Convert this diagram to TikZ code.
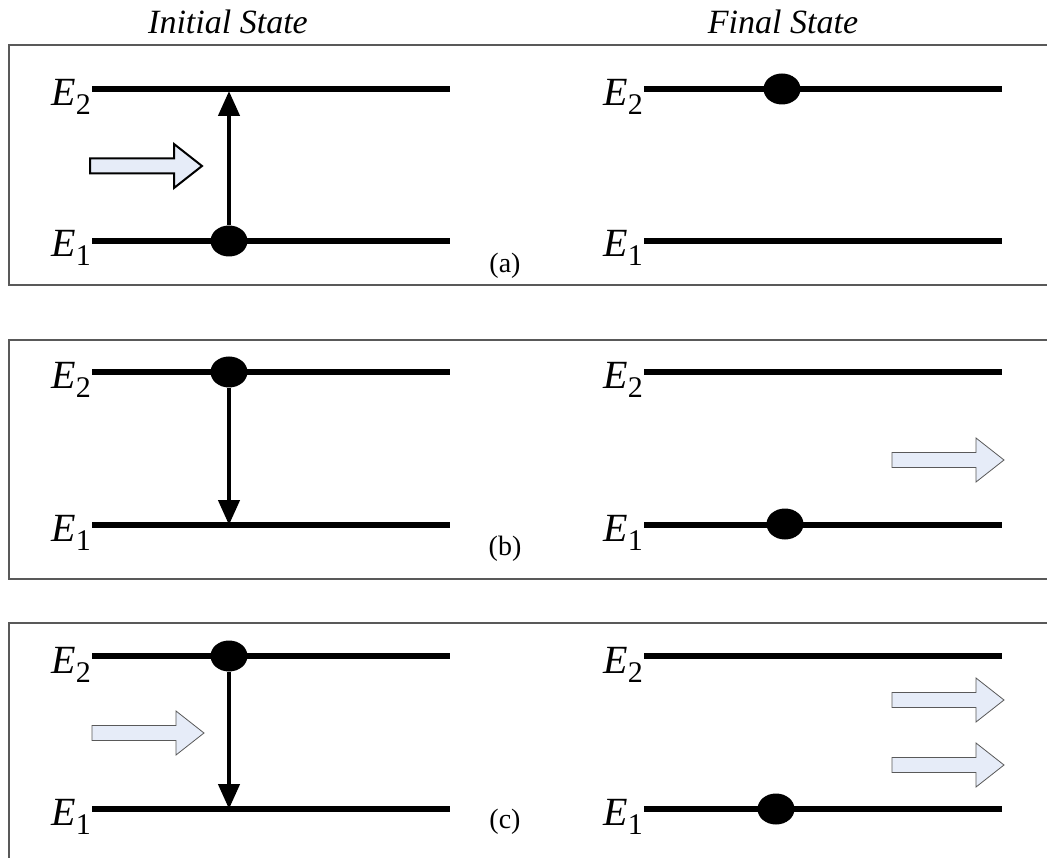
\documentclass[tikz,border=0pt]{standalone}
\usepackage{fontspec}
\setmainfont{Liberation Serif}
\usetikzlibrary{arrows.meta,shapes.geometric}
\definecolor{photonblue}{RGB}{230,236,248}
\tikzset{
  level/.style={line width=5.5pt},
  electron/.style={ellipse,fill=black,minimum width=37pt,minimum height=31pt,inner sep=0pt},
  jump/.style={line width=4.5pt,-{Triangle[width=21pt,length=25pt]}},
  elabel/.style={anchor=base east,inner sep=0pt,font=\fontsize{40}{40}\selectfont},
  panel/.style={draw=gray!70!black,line width=1.2pt},
  photon/.style={fill=photonblue,draw=gray!70!black,line width=0.8pt},
  bigphoton/.style={fill=photonblue,draw=black,line width=2pt},
  tag/.style={font=\fontsize{28}{28}\selectfont},
  title/.style={font=\fontsize{34}{34}\selectfont\itshape}
}
\newcommand{\En}[1]{\textit{E}\raisebox{-9pt}{\fontsize{30}{30}\selectfont #1}}
\newcommand{\photonarrow}[3][photon]{%
  \draw[#1] (#2,#3) ++(0,-7.5) -- ++(84,0) -- ++(0,-14.5) -- ++(28,22)
    -- ++(-28,22) -- ++(0,-14.5) -- ++(-84,0) -- cycle;}
\begin{document}
\begin{tikzpicture}[x=1pt,y=-1pt]
  \useasboundingbox (0,0) rectangle (1047,858);
  \node[title] (init) at (228,22) {Initial State};
  \node[title] (final) at (783,22) {Final State};

  % panels
  \draw[panel] (1060,45) -- (9,45) -- (9,285) -- (1060,285);
  \draw[panel] (1060,340) -- (9,340) -- (9,579) -- (1060,579);
  \draw[panel] (1060,623) -- (9,623) -- (9,870);

  % levels
  \foreach \up/\lo in {89/241, 372/525, 656/809} {
    \draw[level] (92,\up) -- (450,\up);
    \draw[level] (92,\lo) -- (450,\lo);
    \draw[level] (644,\up) -- (1002,\up);
    \draw[level] (644,\lo) -- (1002,\lo);
    \node[elabel] at (91,\up+17) {\En{2}};
    \node[elabel] at (91,\lo+16) {\En{1}};
    \node[elabel] at (643,\up+17) {\En{2}};
    \node[elabel] at (643,\lo+16) {\En{1}};
  }

  % (a) absorption
  \node[electron] (atomA) at (229,241) {};
  \coordinate (topA) at (229,91);
  \draw[jump] (atomA) -- (topA);
  \photonarrow[bigphoton]{90}{166}
  \node[electron] (atomAf) at (782,89) {};
  \node[tag] (tagA) at (505,266) {(a)};

  % (b) spontaneous emission
  \node[electron] (atomB) at (229,372) {};
  \coordinate (botB) at (229,525);
  \draw[jump] (atomB) -- (botB);
  \node[electron] (atomBf) at (785,524) {};
  \photonarrow{892}{460}
  \node[tag] (tagB) at (505,549) {(b)};

  % (c) stimulated emission
  \node[electron] (atomC) at (229,656) {};
  \coordinate (botC) at (229,809);
  \draw[jump] (atomC) -- (botC);
  \photonarrow{92}{733}
  \node[electron] (atomCf) at (776,809) {};
  \photonarrow{892}{700}
  \photonarrow{892}{765}
  \node[tag] (tagC) at (505,822) {(c)};
\end{tikzpicture}
\end{document}
